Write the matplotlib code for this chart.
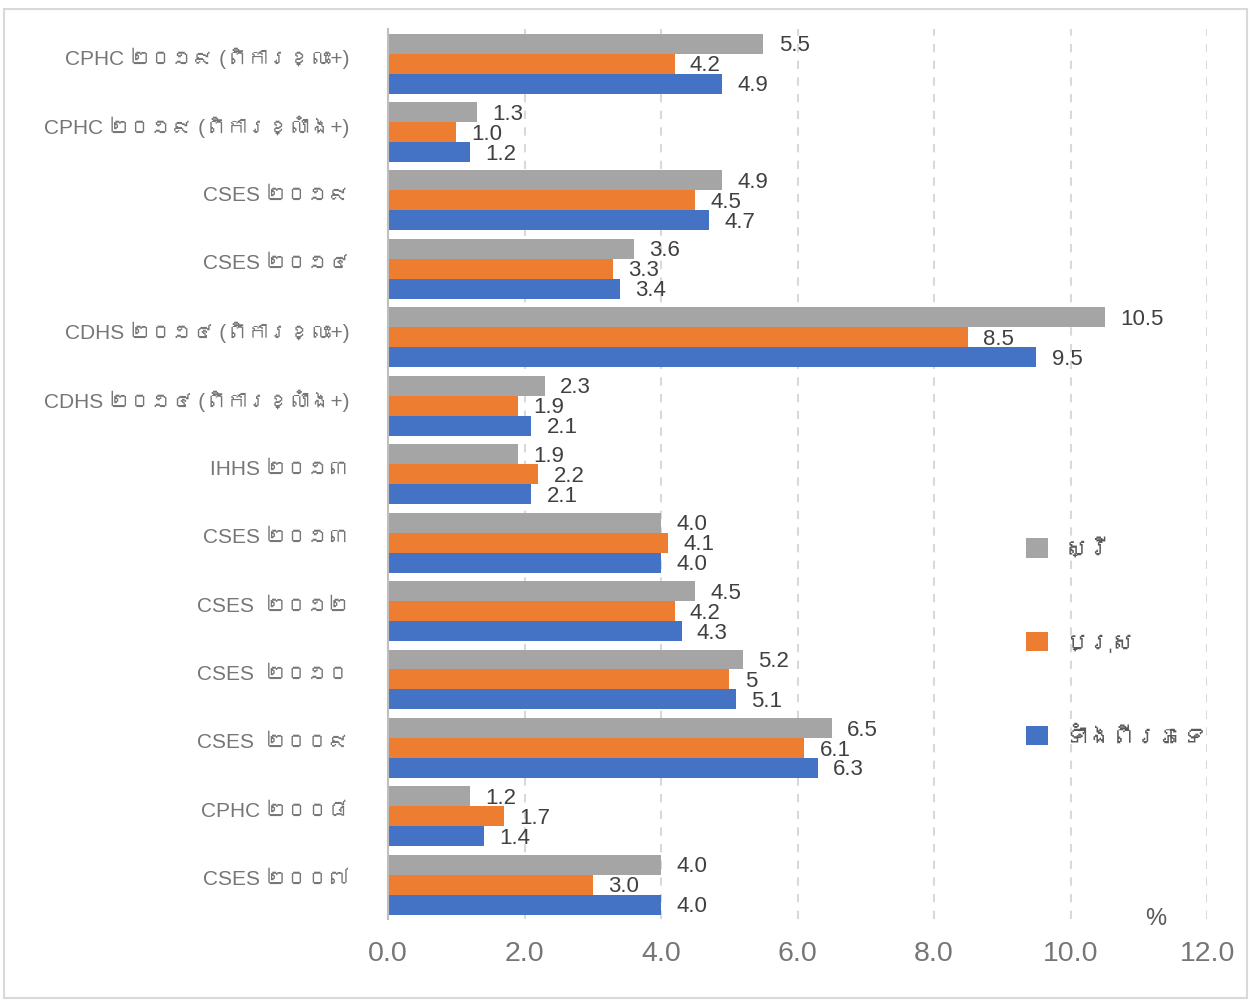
import matplotlib
matplotlib.use("Agg")
import matplotlib.pyplot as plt
from matplotlib import font_manager
from matplotlib.ft2font import FT2Font
from matplotlib.patches import Rectangle
from matplotlib.transforms import blended_transform_factory, ScaledTranslation

# Survey labels, top to bottom
categories = [
    "CPHC ២០១៩ (ពិការខ្លះ+)",
    "CPHC ២០១៩ (ពិការខ្លាំង+)",
    "CSES ២០១៩",
    "CSES ២០១៤",
    "CDHS ២០១៤ (ពិការខ្លះ+)",
    "CDHS ២០១៤ (ពិការខ្លាំង+)",
    "IHHS ២០១៣",
    "CSES ២០១៣",
    "CSES  ២០១២",
    "CSES  ២០១០",
    "CSES  ២០០៩",
    "CPHC ២០០៨",
    "CSES ២០០៧",
]

# Disability prevalence (%) as printed on the bars
female = ["5.5", "1.3", "4.9", "3.6", "10.5", "2.3", "1.9", "4.0", "4.5", "5.2", "6.5", "1.2", "4.0"]
male = ["4.2", "1.0", "4.5", "3.3", "8.5", "1.9", "2.2", "4.1", "4.2", "5", "6.1", "1.7", "3.0"]
both = ["4.9", "1.2", "4.7", "3.4", "9.5", "2.1", "2.1", "4.0", "4.3", "5.1", "6.3", "1.4", "4.0"]

series_names = ["ស្រី", "ប្រុស", "ទាំងពីរភេទ"]
series_colors = ["#A5A5A5", "#ED7D31", "#4472C4"]
x_ticks = [0, 2, 4, 6, 8, 10, 12]
unit_label = "%"


def find_khmer_font():
    seen = set()
    for entry in font_manager.fontManager.ttflist:
        if entry.fname in seen:
            continue
        seen.add(entry.fname)
        try:
            cmap = FT2Font(entry.fname).get_charmap()
        except Exception:
            continue
        if 0x1780 in cmap and 0x17D2 in cmap:
            return entry.name
    return None


families = ["Liberation Sans"]
khmer = find_khmer_font()
if khmer:
    families.append(khmer)
families.append("DejaVu Sans")
plt.rcParams["font.family"] = families

fig = plt.figure(figsize=(12.51, 10.01), dpi=100)
fig.patches.append(Rectangle((0.003, 0.003), 0.994, 0.988, transform=fig.transFigure,
                             fill=False, edgecolor="#D9D9D9", linewidth=1.5))
ax = fig.add_axes([0.3102, 0.0819, 0.6547, 0.8888])

n = len(categories)
bar_h = 0.292
offsets = [-bar_h, 0.0, bar_h]
for vals, name, color, off in zip([female, male, both], series_names, series_colors, offsets):
    nums = [float(v) for v in vals]
    ys = [i + off for i in range(n)]
    ax.barh(ys, nums, height=bar_h, color=color, label=name, zorder=3)
    for y, v, s in zip(ys, nums, vals):
        ax.annotate(s, (v, y), xytext=(11, -1.5), textcoords="offset points",
                    ha="left", va="center", fontsize=16, color="#404040", zorder=4)

ax.set_xlim(0, 12)
ax.set_ylim(n - 0.5, -0.5)
ax.set_xticks(x_ticks)
ax.set_xticklabels([f"{t:.1f}" for t in x_ticks])
ax.set_yticks(range(n))
ax.set_yticklabels(categories)
ax.tick_params(axis="x", length=0, pad=16, labelsize=20.5, labelcolor="#767676")
ax.tick_params(axis="y", length=0, pad=28, labelsize=15, labelcolor="#767676")
lift = ScaledTranslation(0, 5 / 72, fig.dpi_scale_trans)
for lbl in ax.get_yticklabels():
    lbl.set_transform(lbl.get_transform() + lift)

ax.grid(axis="x", color="#D9D9D9", linestyle=(0, (4, 4)), linewidth=1.5, zorder=0)
for side in ["top", "right", "bottom"]:
    ax.spines[side].set_visible(False)
ax.spines["left"].set_color("#BFBFBF")
ax.spines["left"].set_linewidth(1.5)
ax.spines["left"].set_zorder(5)

trans = blended_transform_factory(ax.transData, ax.transAxes)
ax.text(11.25, 0.0, unit_label, transform=trans, ha="center", va="center",
        fontsize=17, color="#595959")

leg = ax.legend(loc="center left", bbox_to_anchor=(0.7535, 0.31), frameon=False,
                fontsize=17, handlelength=0.9, handleheight=0.9, handletextpad=0.7,
                labelspacing=3.0, labelcolor="#595959")

fig.savefig("out.png", dpi=100)
